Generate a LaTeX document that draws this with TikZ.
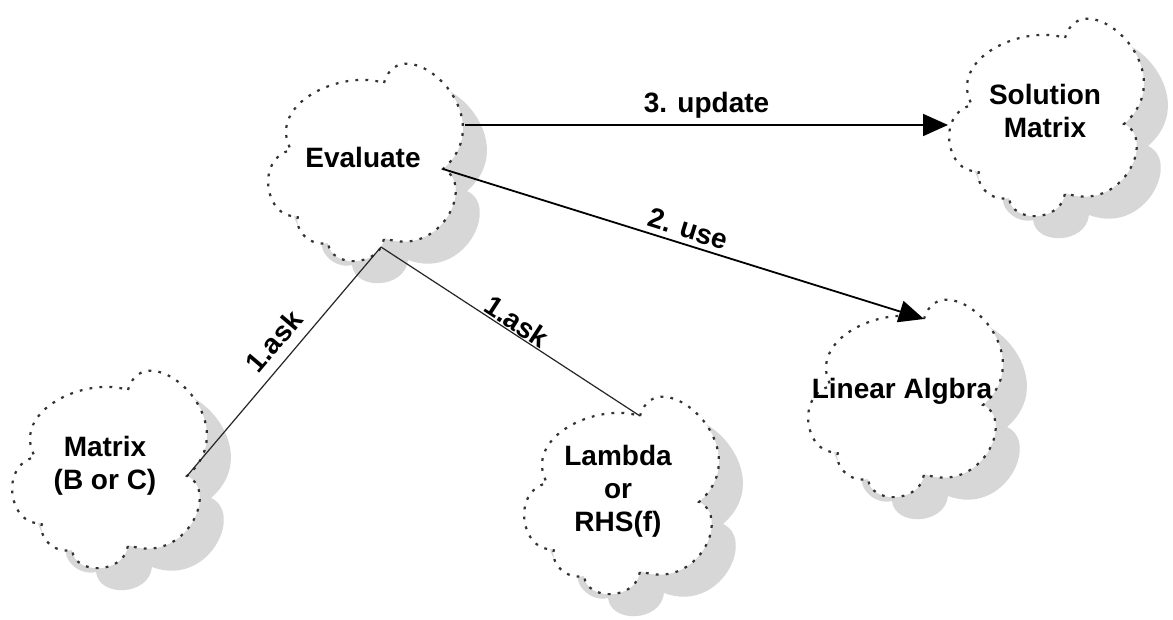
\documentclass[tikz,border=0pt]{standalone}
\usepackage{fontspec}
\setmainfont{Liberation Sans}
\usetikzlibrary{arrows.meta}

\definecolor{shadowgray}{RGB}{215,215,215}

% outline of one cloud, centred on the origin (units: px, y pointing down)
\newcommand\cloudoutline{(18,-76)
  .. controls (35,-135) and (140,-45) .. (77,10)
  .. controls (110,25) and (75,100) .. (18,79)
  .. controls (15,108) and (-35,110) .. (-38,84)
  .. controls (-55,88) and (-72,72) .. (-68,57)
  .. controls (-100,62) and (-112,0) .. (-75,-9)
  .. controls (-100,-55) and (-25,-90) .. (18,-76) -- cycle}

\tikzset{
  cloudedge/.style={draw=black!80, line width=1.1pt,
    dash pattern=on 1.4pt off 3.6pt, fill=white},
  cloudshadow/.style={fill=shadowgray},
  txt/.style={align=center, inner sep=0pt, text=black},
  link/.style={draw=black, line width=0.9pt},
  asklink/.style={draw=black!85, line width=0.6pt},
  tip/.style={-{Triangle[length=12.5pt,width=11pt]}},
  lbl/.style={inner sep=0pt, text=black},
  puffcloud/.pic={
    \path[cloudshadow, shift={(24,22)}] \cloudoutline;
    \path[cloudedge] \cloudoutline;
    \coordinate (-n1) at (18,-76);
    \coordinate (-n2) at (77,10);
    \coordinate (-ne) at (99,-34);
    \coordinate (-w) at (-99,11);
    \coordinate (-foot) at (15,88);
  }
}

\begin{document}
\begin{tikzpicture}[x=0.5pt, y=-0.5pt,
    font=\bfseries\fontsize{14}{16.5}\selectfont]
  \useasboundingbox (0,0) rectangle (1173,620);
  \fill[white] (0,0) rectangle (1173,620);

  % clouds with their drop shadows
  \pic (eval) at (366,159) {puffcloud};
  \pic (sol)  at (1047,114) {puffcloud};
  \pic (lin)  at (906,395) {puffcloud};
  \pic (mat)  at (110,466) {puffcloud};
  \pic (lam)  at (622,492) {puffcloud};

  % cloud captions
  \node[txt] (evaltxt) at (363,157) {Evaluate};
  \node[txt] (soltxt)  at (1045,111) {Solution\\Matrix};
  \node[txt] (lintxt)  at (902,391) {Linear Algbra};
  \node[txt] (mattxt)  at (105,466) {Matrix\\(B or C)};
  \node[txt] (lamtxt)  at (618,491) {Lambda\\or\\RHS(f)};

  % connectors
  \draw[link, tip] (eval-ne) -- (eval-ne -| sol-w)
    node[lbl, midway, above=3pt] {3. update};
  \draw[link, tip] (eval-n2) -- (lin-n1)
    node[lbl, midway, sloped, above=2.5pt] {2. use};
  \draw[asklink] (eval-foot) -- (mat-n2)
    node[lbl, pos=0.47, sloped, above=5pt] {1.ask};
  \draw[asklink] (eval-foot) -- (lam-n1)
    node[lbl, midway, sloped, above=0.5pt] {1.ask};
\end{tikzpicture}
\end{document}
